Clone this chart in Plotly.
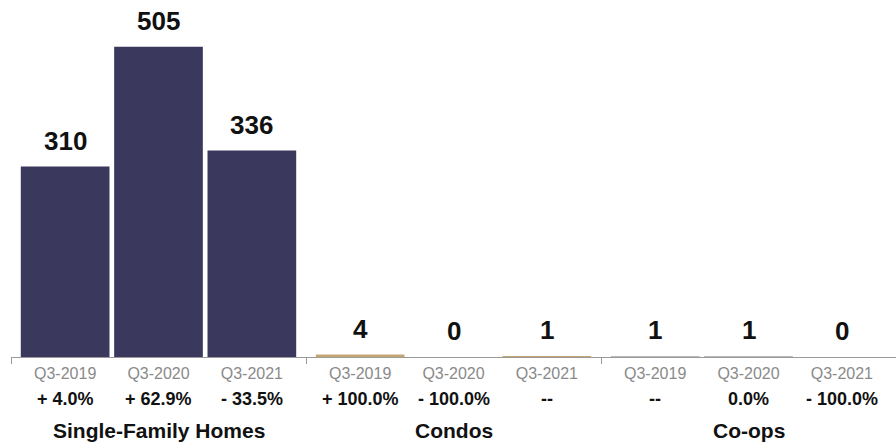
import plotly.graph_objects as go

# Sales counts by property type and period
groups = ["Single-Family Homes", "Condos", "Co-ops"]
periods = ["Q3-2019", "Q3-2020", "Q3-2021"]
values = [310, 505, 336, 4, 0, 1, 1, 1, 0]
changes = ["+ 4.0%", "+ 62.9%", "- 33.5%",
           "+ 100.0%", "- 100.0%", "--",
           "--", "0.0%", "- 100.0%"]
group_colors = ["#3a385c", "#c4a574", "#b8b8b8"]

FONT = "Liberation Sans, Arial, Helvetica, sans-serif"

n_per = len(periods)
pad = 0.08                      # extra space at each side of a group
group_w = n_per + 2 * pad       # width of one group in x units
xs = [(i // n_per) * group_w + (i % n_per) for i in range(len(values))]
tick_text = [periods[i % n_per] for i in range(len(values))]
bar_colors = [group_colors[i // n_per] for i in range(len(values))]
x_lo = -0.5 - pad
x_hi = x_lo + group_w * len(groups)

fig = go.Figure()
fig.add_trace(go.Bar(
    x=xs, y=values, marker=dict(color=bar_colors, line=dict(width=0)),
    width=0.95, hoverinfo="skip", showlegend=False,
))

annotations = []
for i, v in enumerate(values):
    annotations.append(dict(
        x=xs[i], y=v, xref="x", yref="y", text=f"<b>{v}</b>", showarrow=False,
        yanchor="bottom", yshift=9, font=dict(family=FONT, size=26, color="#111111"),
    ))
    annotations.append(dict(
        x=xs[i], y=0, xref="x", yref="paper", text=f"<b>{changes[i]}</b>", showarrow=False,
        yanchor="middle", yshift=-42, font=dict(family=FONT, size=18, color="#111111"),
    ))
for g, name in enumerate(groups):
    annotations.append(dict(
        x=g * group_w + (n_per - 1) / 2, y=0, xref="x", yref="paper",
        text=f"<b>{name}</b>", showarrow=False, yanchor="middle", yshift=-73,
        font=dict(family=FONT, size=21, color="#111111"),
    ))

fig.update_layout(
    width=896, height=447,
    margin=dict(l=11, r=0, t=0, b=90),
    paper_bgcolor="white", plot_bgcolor="white",
    annotations=annotations,
    xaxis=dict(
        range=[x_lo, x_hi],
        tickvals=xs, ticktext=tick_text, ticks="", ticklabelstandoff=2,
        tickfont=dict(family=FONT, size=16, color="#8a8a8a"),
        showline=True, linecolor="#9a9a9a", linewidth=1,
        showgrid=False, zeroline=False, fixedrange=True,
        minor=dict(tick0=x_lo, dtick=group_w, ticks="outside", ticklen=6,
                   tickcolor="#9a9a9a", tickwidth=1, showgrid=False),
    ),
    yaxis=dict(range=[0, 581], visible=False, showgrid=False, zeroline=False),
)

fig.write_html("out.html")
